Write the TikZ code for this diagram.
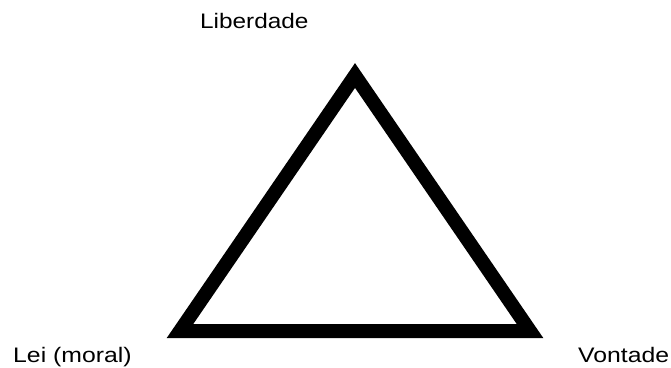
\documentclass[tikz,border=0pt]{standalone}
\usepackage{fontspec}
\setmainfont{Liberation Sans}
\begin{document}
\begin{tikzpicture}[x=1pt,y=-1pt,
  lbl/.style={inner sep=0pt, anchor=base west, font=\fontsize{21pt}{25pt}\selectfont},
  tri/.style={line width=14pt, line join=miter, draw=black}]
\useasboundingbox (0,0) rectangle (671,367);
\coordinate (A) at (355,75.5);
\coordinate (B) at (180,331);
\coordinate (C) at (530,331);
\draw[tri] (B) -- (A) -- (C) -- cycle;
\node[lbl] (lib) at (200,28) {\scalebox{1.16}[1]{Liberdade}};
\node[lbl] (lei) at (13,362) {\scalebox{1.18}[1]{Lei (moral)}};
\node[lbl] (von) at (578,362) {\scalebox{1.18}[1]{Vontade}};
\end{tikzpicture}
\end{document}
